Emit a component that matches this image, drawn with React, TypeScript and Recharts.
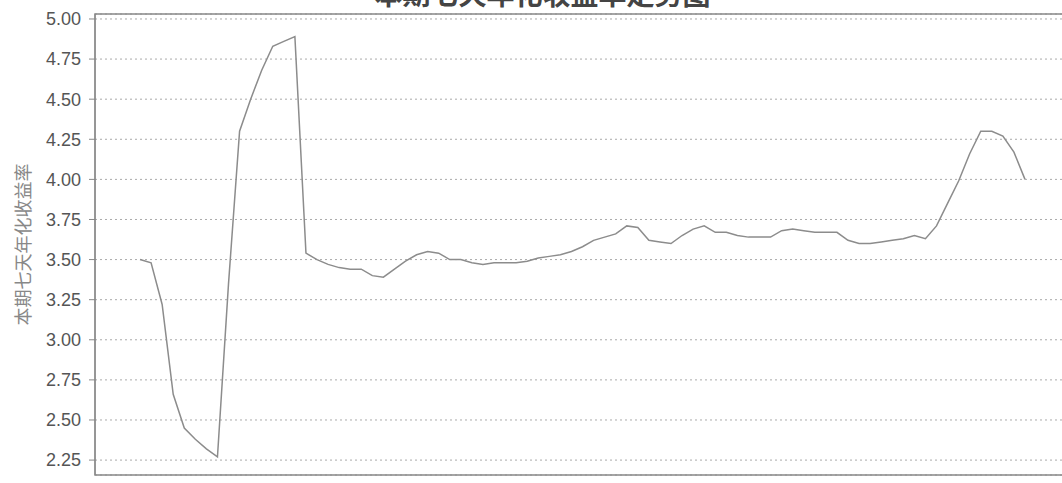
import {
  LineChart,
  Line,
  XAxis,
  YAxis,
  CartesianGrid,
  ReferenceArea,
} from "recharts";

const yieldValues = [
  3.5, 3.48, 3.22, 2.66, 2.45, 2.38, 2.32, 2.27, 3.35, 4.3,
  4.5, 4.68, 4.83, 4.86, 4.89, 3.54, 3.5, 3.47, 3.45, 3.44,
  3.44, 3.4, 3.39, 3.44, 3.49, 3.53, 3.55, 3.54, 3.5, 3.5,
  3.48, 3.47, 3.48, 3.48, 3.48, 3.49, 3.51, 3.52, 3.53, 3.55,
  3.58, 3.62, 3.64, 3.66, 3.71, 3.7, 3.62, 3.61, 3.6, 3.65,
  3.69, 3.71, 3.67, 3.67, 3.65, 3.64, 3.64, 3.64, 3.68, 3.69,
  3.68, 3.67, 3.67, 3.67, 3.62, 3.6, 3.6, 3.61, 3.62, 3.63,
  3.65, 3.63, 3.71, 3.85, 3.99, 4.16, 4.3, 4.3, 4.27, 4.17,
  4.0,
];

const yTicks = [2.25, 2.5, 2.75, 3.0, 3.25, 3.5, 3.75, 4.0, 4.25, 4.5, 4.75, 5.0];

const title = "本期七天年化收益率走势图";
const yLabel = "本期七天年化收益率";

const Y_MIN = 2.157;
const Y_MAX = 5.031;
const X_MIN = -4.07;
const X_MAX = 84.52;

const data = yieldValues.map((v, i) => ({ idx: i, value: v }));

export default function App() {
  return (
    <div
      style={{
        position: "fixed",
        left: 0,
        top: 0,
        width: 1062,
        height: 483,
        overflow: "hidden",
        background: "#fff",
      }}
    >
      {/* title sits mostly above the visible area, as in the source image */}
      <div
        style={{
          position: "absolute",
          left: 0,
          width: 1085,
          top: -21,
          textAlign: "center",
          fontFamily: "'Noto Sans CJK SC', sans-serif",
          fontSize: 28,
          fontWeight: 700,
          lineHeight: 1,
          color: "#444",
        }}
      >
        {title}
      </div>
      <LineChart
        width={1085}
        height={483}
        data={data}
        margin={{ top: 14, right: 10, bottom: 8, left: 0 }}
        style={{ position: "absolute", left: 0, top: 0 }}
      >
        <CartesianGrid
          horizontal
          vertical={false}
          stroke="#aaa"
          strokeDasharray="2 3"
        />
        <XAxis
          type="number"
          dataKey="idx"
          domain={[X_MIN, X_MAX]}
          allowDataOverflow
          hide
        />
        <YAxis
          type="number"
          domain={[Y_MIN, Y_MAX]}
          allowDataOverflow
          ticks={yTicks}
          interval={0}
          width={95}
          tickFormatter={(v: number) => v.toFixed(2)}
          tick={{ fontSize: 18, fill: "#555", fontFamily: "'Liberation Sans', Arial, sans-serif" }}
          tickSize={6}
          tickMargin={8}
          tickLine={{ stroke: "#888" }}
          axisLine={{ stroke: "#888" }}
          label={{
            value: yLabel,
            angle: -90,
            position: "insideLeft",
            offset: 24,
            style: {
              textAnchor: "middle",
              fontSize: 18,
              fill: "#888",
              fontFamily: "'Noto Sans CJK SC', sans-serif",
            },
          }}
        />
        <ReferenceArea
          x1={X_MIN}
          x2={X_MAX}
          y1={Y_MIN}
          y2={Y_MAX}
          fill="none"
          stroke="#888"
          strokeWidth={1.5}
          ifOverflow="extendDomain"
        />
        <Line
          type="linear"
          dataKey="value"
          stroke="#8c8c8c"
          strokeWidth={1.5}
          dot={false}
          isAnimationActive={false}
        />
      </LineChart>
    </div>
  );
}
